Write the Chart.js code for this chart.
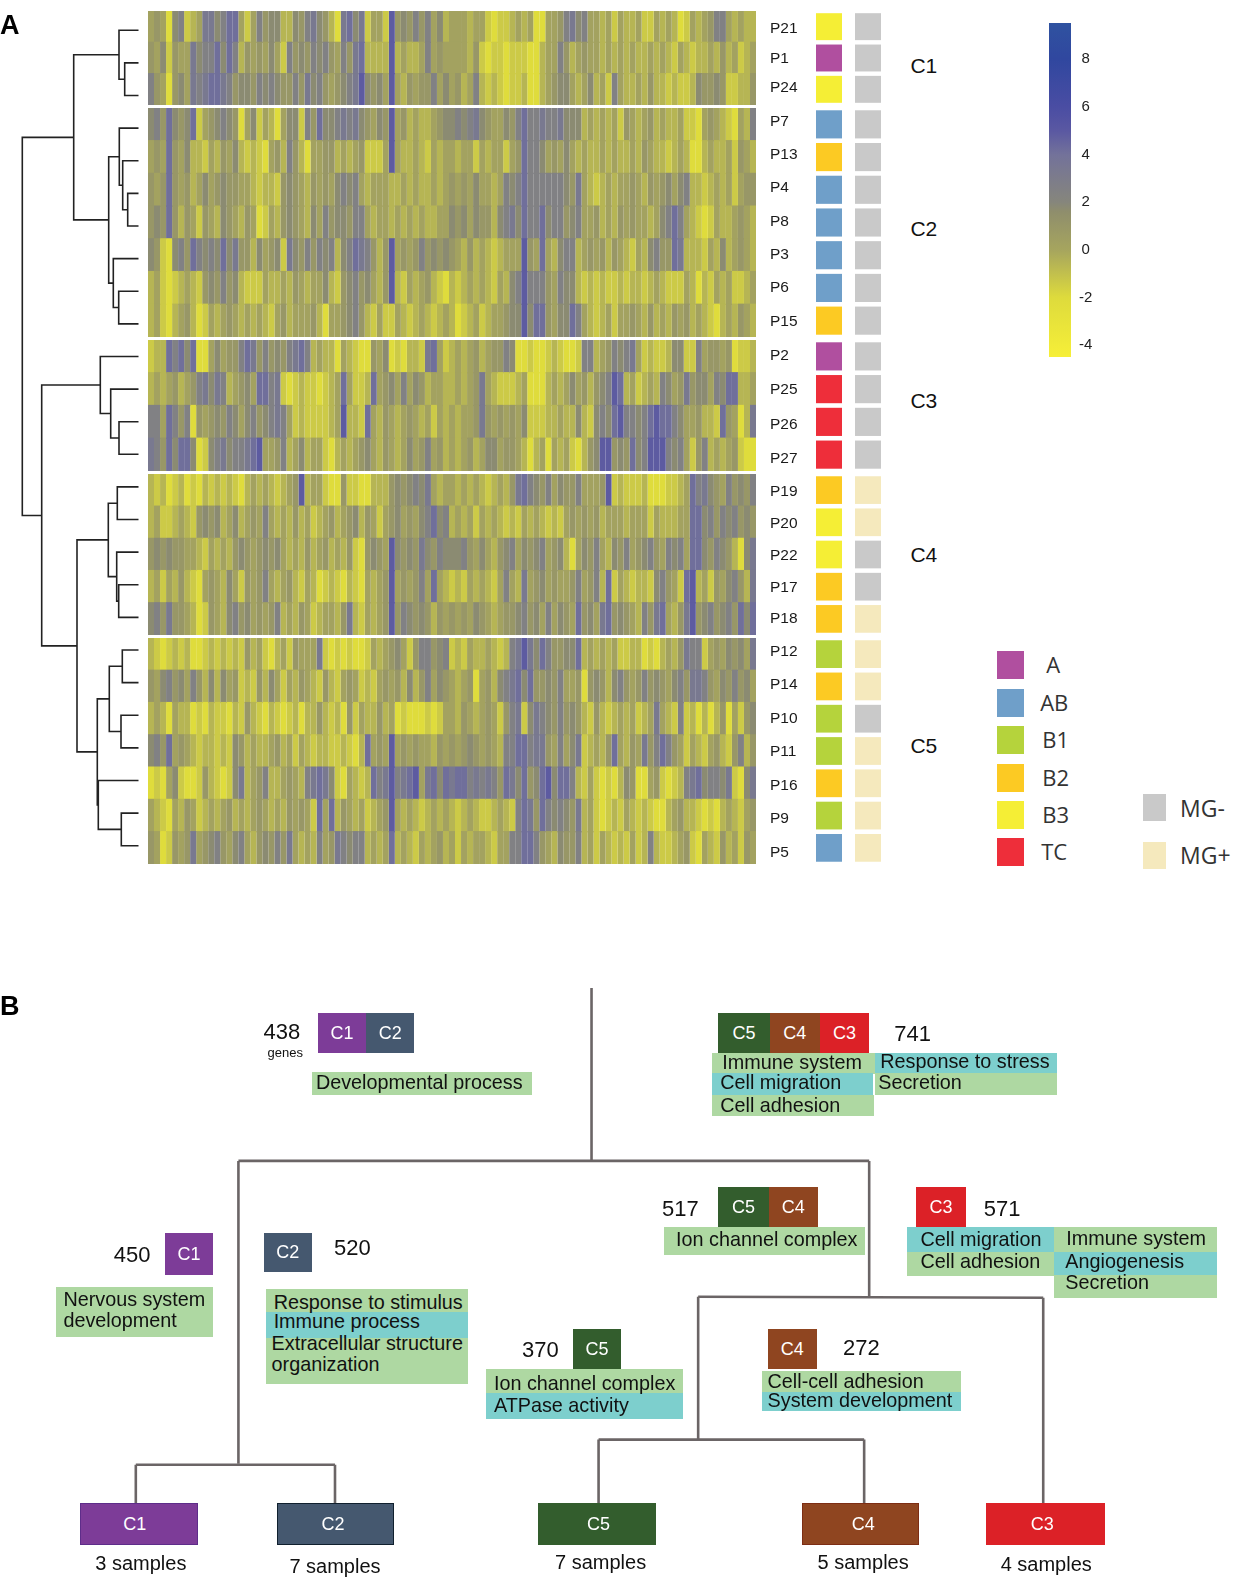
<!DOCTYPE html>
<html><head><meta charset="utf-8">
<script src="https://cdn.jsdelivr.net/npm/chart.js@4/dist/chart.umd.min.js"></script>
<style>
html,body{margin:0;padding:0;background:#fff}
#page{position:relative;width:1235px;height:1577px;overflow:hidden;font-family:"Liberation Sans",Arial,sans-serif;color:#111}
canvas{position:absolute}
.t{position:absolute;white-space:nowrap;line-height:1}
.b{position:absolute}
</style></head><body><div id="page"></div>
<script>
/* ---------- heatmap values: one list per sample, 101 expression columns ---------- */
const P21=[0,1,0,-3,2,3,-2,-1,0,4, 4,2,3,5,5,0,-2,0,3,1, 2,2,-1,-1,2,1,3,4,2,1, -1,-3,4,5,2,4,-2,0,0,-2, 6,1,2,1,3,1,3,0,2,-1, 0,0,0,-1,0,0,-2,-3,-2,-2, -1,0,-1,0,-3,-3,0,0,1,3, 4,2,3,0,0,-1,0,-2,0,-1, -1,0,-2,-2,0,-1,0,-1,-3,-2, 0,-1,0,1,3,3,0,-1,0,-1, -1];
const P1=[1,0,2,-2,1,0,0,4,2,3, 3,5,2,5,3,-1,1,0,1,0, 2,0,-2,3,1,2,1,3,2,3, 1,0,3,1,4,5,-1,-1,-1,-1, 6,-1,0,-1,-1,0,3,0,1,0, 0,0,0,-1,1,-2,-3,-2,-2,-3, -2,-2,-2,-3,-3,-1,0,0,3,1, -1,0,1,0,0,-1,0,-1,0,-1, 0,-1,-1,0,-1,0,-1,-2,0,-1, -2,-1,-1,0,-1,1,-1,0,-2,-1, 0];
const P24=[3,1,0,-3,1,2,0,4,3,4, 5,5,4,3,1,2,2,1,3,2, 3,2,1,1,3,1,4,2,3,1, 0,1,2,3,4,6,2,1,2,0, 6,0,-1,1,0,1,1,3,0,2, 0,1,-1,0,3,-1,-2,-1,-2,-3, -2,-2,-1,-3,-3,-1,0,1,2,2, 0,-1,0,2,-1,0,-2,3,0,-1, -1,0,-1,1,-1,-1,-2,-1,-2,-2, -1,2,1,1,2,1,-2,-2,-1,-1, 1];
const P7=[2,3,1,5,2,1,2,5,-2,0, 1,2,3,2,1,-3,0,2,-2,0, -1,-3,0,2,2,-2,3,1,5,2, 2,3,4,3,4,2,1,0,2,1, 6,0,1,-1,0,-1,-1,0,1,2, 2,3,2,3,4,2,1,0,0,2, 1,3,5,3,3,4,3,3,4,2, 2,2,-1,0,-1,0,-1,0,-2,1, 0,-1,0,1,-1,0,-1,-1,0,-2, -2,-3,0,1,0,-1,-2,-3,0,-1, 3];
const P13=[0,1,0,5,1,0,2,-1,-1,-2, 0,-1,1,0,2,-1,-2,-1,-2,-3, 0,1,-1,3,1,-1,-3,0,0,1, 1,-1,0,-1,0,1,-2,-2,-2,0, 6,0,-1,-1,0,-1,-2,0,-1,0, 0,-1,0,0,-2,0,-1,0,0,-2, 0,1,5,3,3,2,0,1,0,2, 0,-1,0,-1,-1,0,-1,0,-1,-1, 0,-1,1,0,-1,-1,-2,-1,0,-1, -3,-3,-1,0,-1,-1,0,-2,1,0, -1];
const P4=[1,0,1,5,1,0,1,-1,0,2, 0,1,2,1,1,0,0,-1,-2,-1, -1,-2,1,2,1,0,-1,1,0,1, 0,2,3,2,3,0,-1,0,0,0, -1,-1,0,-1,0,-1,-1,0,-1,0, 1,0,1,0,2,0,0,-1,0,3, 2,3,5,3,3,3,3,3,3,2, 1,4,0,-1,-2,-1,0,-1,0,0, 1,0,-1,1,0,1,2,0,2,3, -1,-1,-2,-1,0,-1,0,-2,0,1, 1];
const P8=[1,2,1,5,1,-1,1,0,-2,1, 0,-1,2,1,0,-1,1,0,-3,-2, 0,-1,1,2,1,0,-1,2,0,3, 1,2,2,1,3,3,0,-1,0,0, -1,0,-1,0,-1,0,-1,-1,0,0, 2,1,2,0,2,1,1,-1,2,3, 4,2,5,3,3,5,2,3,3,1, 2,3,0,0,1,-1,0,-1,1,0, 1,0,0,-1,0,2,3,5,3,0, -1,-2,-3,-2,0,-1,-1,0,1,0, -1];
const P3=[2,1,-2,-3,2,3,1,5,3,2, 3,2,5,2,4,1,1,-1,2,0, 1,2,-2,4,2,1,3,1,3,2, 3,-1,2,3,5,4,3,1,-1,1, 6,0,1,0,1,3,1,2,1,2, 1,0,-1,1,-1,0,-1,-2,-1,0, 0,0,6,1,0,5,0,-1,2,3, 3,-1,0,1,0,1,-1,1,0,-1, -2,0,-1,2,3,1,1,5,4,-1, -1,-1,-2,0,-1,2,-1,0,1,0, -1];
const P6=[-1,0,-2,-3,-2,-1,0,-1,-2,1, 2,1,3,1,2,-1,-2,-2,-2,0, -1,-1,0,-1,1,0,-1,0,0,2, -1,-2,1,2,3,1,2,0,-1,1, 6,-1,-2,0,-1,0,1,-1,-2,-3, -1,-2,-1,0,-1,0,-1,-2,0,-1, 2,3,6,3,3,3,1,0,3,2, 2,-1,-2,-1,-2,-1,-2,-2,-1,-2, -1,-1,-2,-1,0,-1,-2,-2,-2,0, -1,-3,-1,-2,0,-1,0,-2,-2,-1, 0];
const P15=[-1,0,-2,-3,-1,0,1,-1,-3,-2, 0,-1,0,1,0,-1,0,-1,0,-1, -2,0,1,-1,0,0,0,1,-1,-3, 0,0,1,2,3,1,-1,-2,0,-2, -2,0,-1,-2,-1,0,-1,-2,-1,0, -1,-3,-2,-1,0,-2,-1,0,0,1, 2,2,6,2,5,5,1,0,2,2, 5,3,0,-1,-2,-1,0,-2,0,0, 1,0,-1,1,-1,0,-1,1,0,1, -1,0,-1,-2,-3,-1,0,-1,1,0, -1];
const P2=[-2,-1,-1,5,3,5,2,5,-3,-3, 0,2,0,1,1,3,5,4,1,3, 1,2,1,3,4,5,3,-1,0,-1, -1,-3,0,-1,-2,-3,-3,1,0,2, -3,-2,-3,-1,-1,-2,4,5,0,-2, -1,0,-1,0,1,-1,0,1,1,3, 2,-3,-3,-2,-3,-3,-2,-1,-2,-3, -3,-2,3,3,-1,0,1,3,2,3, 4,0,-2,-1,-2,-2,-1,2,2,-2, -2,3,0,1,1,0,1,-3,-2,-2, -1];
const P25=[-1,0,-1,0,1,-1,0,1,3,4, 2,4,3,-1,0,1,2,0,5,5, 3,4,-2,-3,-2,-1,-2,-2,-3,-2, -1,0,5,0,-2,-2,-1,5,0,1, 2,0,3,0,2,1,-1,0,0,-1, -1,0,-1,0,1,4,0,-1,-2,-2, -2,-1,0,-3,-3,-3,-1,0,-1,0, 2,0,1,-1,1,2,3,6,5,-1, 0,-2,-1,0,-1,3,2,0,1,4, 1,2,2,0,3,2,5,5,-1,-1, 0];
const P26=[3,3,0,5,3,1,3,-3,1,0, 1,2,1,3,2,0,2,3,1,2, 3,4,3,0,-2,-1,-2,-2,-2,-2, -1,0,6,-1,-1,-2,5,0,-1,1, 0,-1,0,1,0,-1,0,-2,0,-1, 0,-1,0,0,1,4,1,0,1,0, 1,0,2,-2,-2,-2,-1,-1,0,-1, -1,2,-1,-2,2,3,2,5,6,3, 3,2,3,5,6,5,5,3,2,0, 0,1,-1,-1,-2,5,1,0,-3,-1, 4];
const P27=[4,3,1,5,2,5,5,2,-3,-2, 2,3,4,2,3,3,4,5,6,0, 0,1,3,-1,0,2,-1,0,0,-2, -3,-1,0,-1,0,1,2,0,-1,1, 0,-1,0,2,0,1,3,0,1,-1, 0,-1,0,1,-1,0,2,2,0,1, 1,0,-1,-3,-1,0,-3,0,-1,0, -2,-3,-1,1,2,6,6,1,2,1, 5,2,3,6,6,6,3,2,3,0, -2,1,3,-1,0,-1,0,1,-2,-3, -3];
const P19=[-1,-2,-1,-3,-2,-1,-3,-2,-3,-1, -2,-1,-2,-1,-2,-3,-1,0,-1,0, -1,-2,-1,0,1,6,-1,0,0,-2, -3,-3,1,-2,-2,-3,-3,-1,-1,-1, 1,2,1,2,3,2,4,0,-1,0, 0,-1,0,-1,0,-1,-2,-1,0,-1, 1,4,5,3,2,1,3,0,2,1, 1,3,0,0,0,1,6,-2,-1,-2, -2,-2,-1,-3,-3,-3,-2,-2,-1,0, 5,3,4,2,1,0,3,1,2,1, 3];
const P20=[-1,0,-2,-2,-1,0,-1,-2,1,2, 1,2,-1,0,2,-1,0,1,0,3, 0,-1,0,-1,1,-1,0,-2,-1,0, 1,-1,0,1,2,-1,1,0,-2,0, 1,2,0,1,0,2,3,5,2,3, -1,0,-1,0,-2,0,-1,0,-1,-2, -1,-2,0,-1,0,-1,-2,-1,-2,0, 1,0,1,0,1,-1,0,0,0,-1, 0,0,0,-2,0,-1,-1,-1,0,0, 5,5,2,3,1,3,2,3,1,2, 1];
const P22=[1,2,1,2,1,1,0,0,-1,-2, 0,-1,0,-1,1,2,1,0,1,2, 1,2,0,-1,0,-1,1,-1,0,1, -1,0,-1,1,-2,-3,1,2,1,0, 6,2,1,2,1,4,2,1,3,2, 2,2,3,1,0,2,0,-1,1,2, 3,0,2,1,2,3,0,1,2,-1, -3,0,2,1,3,0,-1,2,1,3, 0,1,2,3,1,0,3,2,3,0, 5,5,2,1,3,2,1,-1,-3,2, 4];
const P17=[-1,0,-2,0,-1,1,-1,-2,-3,0, 1,0,-1,2,0,-2,1,0,1,3, 0,-1,0,1,-1,-2,0,-1,-3,-2, -1,-2,-3,-1,-2,-3,0,-1,0,1, 6,0,1,0,1,3,0,5,0,-1, -2,-1,-2,0,-1,0,-1,-2,0,3, 0,-1,4,0,1,2,0,1,0,0, 1,3,0,1,3,-1,5,-2,0,-1, -2,-1,-1,-2,2,3,1,0,-2,5, 6,-1,0,-2,1,0,2,3,1,-1, 4];
const P18=[2,3,1,4,1,1,0,-1,-3,-2, 1,0,-1,2,3,1,2,0,1,0, 1,3,-1,0,-1,1,0,-2,-1,0, 0,-1,1,4,-1,-2,0,-1,0,1, 6,1,3,2,1,2,1,-1,1,0, 1,0,1,0,2,1,0,-1,0,1, 1,2,3,1,2,0,3,0,2,1, 0,5,1,2,0,4,5,1,2,1, 0,-1,3,1,4,5,0,-1,1,4, 6,1,2,3,1,2,3,1,5,2, 5];
const P12=[-1,-2,-3,-2,-1,-2,-1,-3,-3,-2, -1,-2,-1,-2,-1,-2,1,-1,0,-2, -3,-1,0,-2,1,0,0,0,4,-2, -3,-2,-3,-2,-3,-3,-2,0,-1,0, 1,2,0,-2,1,3,3,1,2,3, -2,-1,-2,0,-1,-1,0,-1,-2,-1, 3,4,6,4,2,5,3,1,1,2, 2,5,-1,0,-1,0,-1,0,-2,-2, -1,-1,-3,-2,-3,-1,0,-1,1,4, 3,3,-2,0,1,0,2,1,2,0, 4];
const P14=[1,0,2,3,1,2,0,3,1,-1, 2,-1,2,0,1,-2,-1,-2,1,-1, 2,0,-2,0,-1,1,0,-1,-2,1, -1,-2,0,1,0,-2,-1,-2,0,1, 0,1,-1,2,-1,1,3,0,2,1, 0,-1,0,1,-3,0,1,-1,2,3, 4,5,2,5,1,1,2,1,3,0, 0,1,-3,1,2,1,-1,2,3,1, 0,1,3,1,2,1,0,2,3,1, 4,4,3,1,0,2,1,3,1,2, 0];
const P10=[-1,0,-1,-3,0,-1,-1,-3,-2,-3, -1,-2,-2,-3,-1,-2,1,-1,-2,-3, -1,-2,-3,-2,-1,-3,-1,-1,1,-1, -2,-1,-3,1,-2,0,-1,-1,1,-1, 0,-3,-2,-3,-3,-3,-2,-3,-2,0, 0,-1,1,0,-1,0,1,0,-2,1, 3,4,-2,2,4,3,2,1,3,1, 2,1,-1,-2,1,-1,-2,-1,0,-1, 0,-2,-1,0,4,0,-1,-2,3,-2, -1,-3,-1,-3,-1,1,-3,0,-2,1, 2];
const P11=[2,3,1,5,0,1,0,-1,-2,-1, -1,-2,-1,-2,2,1,-1,0,-1,-1, 0,1,-1,0,-2,0,-1,-2,-1,-1, -2,-2,-1,-2,-3,-1,5,0,1,0, 6,0,1,0,1,0,0,-1,1,0, 1,0,1,2,1,0,1,0,-1,3, 3,5,5,3,4,4,1,0,3,0, 2,4,-2,-1,0,-1,1,5,0,-1, 1,0,4,1,3,5,3,1,0,-2, 0,-1,-2,0,1,-1,-2,1,3,-1, 1];
const P16=[-3,-2,-3,0,2,-2,-3,-3,-2,1, -1,-2,-3,-2,2,4,-1,0,1,3, -1,-1,0,1,0,-1,3,4,5,4, 2,-2,-3,0,-1,-2,-1,5,3,4, 6,3,4,5,6,0,4,5,2,5, 4,5,5,3,4,3,4,3,1,5, 4,2,5,1,2,5,6,2,5,5, 3,-1,-2,0,-2,-3,-2,-3,-1,2, 1,-3,-3,0,1,-2,-3,-2,-1,3, 4,5,2,3,3,2,4,-2,-3,2, 4];
const P9=[0,-1,-2,-3,0,-1,1,0,-2,-1, 0,-1,0,1,-1,0,-1,0,1,0, -1,0,-1,1,0,1,0,-2,5,0, 5,-1,1,0,-1,0,-2,-1,0,1, 6,0,-1,0,-1,-2,-1,0,-1,0, -1,-2,-1,0,-1,-2,-2,-1,0,-1, -2,3,5,4,1,5,3,2,3,2, 1,4,-1,0,-2,-3,-2,-1,-2,0, -1,-2,-1,-2,-3,-3,-1,0,1,-1, -1,-2,-3,-2,-3,-1,0,-1,-2,0, 1];
const P5=[1,0,-3,-2,1,0,1,4,0,1, 2,3,1,0,2,3,0,-1,1,2, 1,3,1,4,0,-1,0,-1,3,0, 1,4,3,2,3,3,-1,0,-1,0, 5,-1,0,-1,-2,0,-1,0,1,-1, 0,-2,0,-1,0,0,-1,-2,0,0, 3,3,5,5,3,1,0,-1,2,1, 1,3,-1,0,-2,0,-1,-2,-1,-2, 0,-2,-1,3,-1,-2,-2,-1,0,1, -2,-3,0,-1,-2,1,-1,0,-2,1, 0];
const heatRows={P21,P1,P24,P7,P13,P4,P8,P3,P6,P15,P2,P25,P26,P27,P19,P20,P22,P17,P18,P12,P14,P10,P11,P16,P9,P5};

/* ---------- groups and annotations ---------- */
const clusterNames=['C1','C2','C3','C4','C5'];
const clusterSamples=[['P21','P1','P24'],['P7','P13','P4','P8','P3','P6','P15'],['P2','P25','P26','P27'],['P19','P20','P22','P17','P18'],['P12','P14','P10','P11','P16','P9','P5']];
const subtypeOf={P21:'B3',P1:'A',P24:'B3',P7:'AB',P13:'B2',P4:'AB',P8:'AB',P3:'AB',P6:'AB',P15:'B2',P2:'A',P25:'TC',P26:'TC',P27:'TC',P19:'B2',P20:'B3',P22:'B3',P17:'B2',P18:'B2',P12:'B1',P14:'B2',P10:'B1',P11:'B1',P16:'B2',P9:'B1',P5:'AB'};
const mgOf={P21:'MG-',P1:'MG-',P24:'MG-',P7:'MG-',P13:'MG-',P4:'MG-',P8:'MG-',P3:'MG-',P6:'MG-',P15:'MG-',P2:'MG-',P25:'MG-',P26:'MG-',P27:'MG-',P19:'MG+',P20:'MG+',P22:'MG-',P17:'MG-',P18:'MG+',P12:'MG+',P14:'MG+',P10:'MG-',P11:'MG+',P16:'MG+',P9:'MG+',P5:'MG+'};
const subtypeColors={A:'#b04f9f',AB:'#6f9fc9',B1:'#b5d33c',B2:'#fcca23',B3:'#f5ee35',TC:'#ee2e3a'};
const mgColors={'MG-':'#c9c9c9','MG+':'#f5e9bd'};
const colorbarTicks=[-4,-2,0,2,4,6,8];
const colorStops=[[-4.49,'#f6ef38'],[-2,'#dedb3c'],[0,'#a6a55e'],[1.6,'#8f8e6c'],[2,'#86867c'],[4,'#73729a'],[5,'#5a58a2'],[6,'#4a4da3'],[8,'#30479f'],[9.52,'#2f52a0']];

/* dendrogram merges: [child, child, height]; number = row, 'n#' = earlier merge */
const dendroMerges=[
 [1,2,13.8],[0,'n0',19.5],[5,6,10.8],[4,'n2',15.8],[3,'n3',19.2],[8,9,19.8],[7,'n5',25.2],['n4','n6',29.8],['n1','n7',64.8],
 [12,13,19.5],[11,'n9',27.8],[10,'n10',38.2],
 [14,15,21.2],[17,18,19.8],[16,'n13',21.8],['n12','n14',30.2],
 [19,20,16.2],[21,22,17.5],['n16','n17',29.2],[24,25,17.2],[23,'n19',40.2],['n18','n20',41.2],
 ['n15','n21',61.5],['n11','n22',96.8],['n8','n23',116.2]];

/* panel B tree branches, in figure units */
const treeBranches=[
 [[588,982],[588,1153]],[[237,1154],[864,1154]],[[237,1154],[237,1455]],[[135,1456],[333,1456]],[[135,1456],[135,1494]],[[333,1456],[333,1494]],
 [[864,1154],[864,1289]],[[694,1289],[1037,1290]],[[694,1289],[694,1431]],[[595,1431],[859,1431]],[[595,1431],[595,1494]],[[859,1431],[859,1494]],[[1037,1290],[1037,1494]]];

const K=1.006;
const page=document.getElementById('page');
function mkCanvas(l,t,w,h){const c=document.createElement('canvas');c.width=w;c.height=h;c.style.cssText=`left:${l}px;top:${t}px;width:${w}px;height:${h}px`;page.appendChild(c);return c;}
function hexLerp(a,b,f){const p=s=>[1,3,5].map(i=>parseInt(s.substr(i,2),16));const A=p(a),B=p(b);return 'rgb('+A.map((v,i)=>Math.round(v+(B[i]-v)*f)).join(',')+')';}
function heatColor(v){for(let i=1;i<colorStops.length;i++){if(v<=colorStops[i][0]){const[a,ca]=colorStops[i-1],[b,cb]=colorStops[i];return hexLerp(ca,cb,(v-a)/(b-a));}}return colorStops[colorStops.length-1][1];}
Chart.defaults.animation=false;Chart.defaults.responsive=false;Chart.defaults.font.family='"Liberation Sans",Arial,sans-serif';
const quiet={legend:{display:false},tooltip:{enabled:false}};
const fitAxis=w=>s=>{s.width=w;s.paddingTop=0;s.paddingBottom=0;};

/* heatmap + annotation tracks: one chart pair per cluster */
const bands=[[11,105],[108,337],[340,471],[474,635],[638,864]];
const labelBands=[[14,103],[105,338],[338,476],[476,635],[635,869]];
const numCols=101;
const cellGain=0.78;
clusterSamples.forEach((rows,ci)=>{
  const [top,bot]=bands[ci];
  const datasets=[];
  for(let c=0;c<numCols;c++){
    datasets.push({data:rows.map(()=>1),backgroundColor:rows.map(r=>heatColor(0.2+heatRows[r][c]*cellGain)),barPercentage:1.04,categoryPercentage:1,borderWidth:0});
  }
  const hc=mkCanvas(148,top,608,bot-top);hc.style.filter='blur(.6px)';
  new Chart(hc,{type:'bar',data:{labels:rows,datasets},options:{indexAxis:'y',layout:{padding:0},plugins:quiet,
    scales:{x:{stacked:true,display:false,min:0,max:numCols},y:{stacked:true,display:false}}}});
  const [lt,lb]=labelBands[ci];
  new Chart(mkCanvas(770,lt,38,lb-lt),{type:'bar',data:{labels:rows,datasets:[{data:rows.map(()=>1),backgroundColor:'transparent'}]},options:{indexAxis:'y',layout:{padding:0},plugins:quiet,
    scales:{x:{display:false,min:0,max:1},
      y:{position:'left',afterFit:fitAxis(38),grid:{display:false},border:{display:false},
         ticks:{padding:0,crossAlign:'far',color:'#1a1a1a',font:{size:15.5},autoSkip:false}}}}});
  new Chart(mkCanvas(816,top,65,bot-top),{type:'bar',data:{labels:rows,datasets:[
      {data:rows.map(()=>[0,2]),backgroundColor:rows.map(r=>subtypeColors[subtypeOf[r]])},
      {data:rows.map(()=>[3,5]),backgroundColor:rows.map(r=>mgColors[mgOf[r]])}]},
    options:{indexAxis:'y',layout:{padding:0},plugins:quiet,datasets:{bar:{grouped:false,barPercentage:0.86,categoryPercentage:1}},
      scales:{x:{display:false,min:0,max:5},y:{display:false}}}});
});

/* dendrogram */
(function(){
  const pos={};const ds=[];
  const at=k=>typeof k==='number'?{h:0,y:k}:pos[k];
  dendroMerges.forEach((m,i)=>{
    const a=at(m[0]),b=at(m[1]),h=m[2];
    pos['n'+i]={h,y:(a.y+b.y)/2};
    ds.push({data:[{x:a.h,y:a.y},{x:h,y:a.y},{x:h,y:b.y},{x:b.h,y:b.y}],showLine:true,pointRadius:0,borderColor:'#222',borderWidth:1.6,fill:false});
  });
  new Chart(mkCanvas(18,14,122,848),{type:'scatter',data:{datasets:ds},options:{layout:{padding:0},plugins:quiet,
    scales:{x:{display:false,reverse:true,min:-1.5,max:120.5},y:{display:false,reverse:true,min:-0.5,max:25.5}}}});
})();

/* colour key */
new Chart(mkCanvas(1049,23,48,334),{type:'bar',data:{labels:['key'],datasets:[
   {data:[[-4.49,9.52]],barPercentage:1,categoryPercentage:1,backgroundColor:ctx=>{const a=ctx.chart.chartArea;if(!a)return '#888';const s=ctx.chart.scales.y;const g=ctx.chart.ctx.createLinearGradient(0,a.bottom,0,a.top);colorStops.forEach(([v,c])=>g.addColorStop(Math.min(1,Math.max(0,(v-s.min)/(s.max-s.min))),c));return g;}},
   {data:[[1.68,1.74]],barPercentage:1,categoryPercentage:1,backgroundColor:'#f2f2e4'}]},
  options:{layout:{padding:0},plugins:quiet,datasets:{bar:{grouped:false}},
   scales:{x:{display:false},y:{position:'right',min:-4.49,max:9.52,afterFit:fitAxis(26),afterBuildTicks:s=>{s.ticks=colorbarTicks.map(value=>({value}))},
     grid:{display:false},border:{display:false},ticks:{padding:0,color:'#222',font:{size:15},crossAlign:'center'}}}}});

/* panel B tree */
new Chart(mkCanvas(0,970,1235,600),{type:'scatter',data:{datasets:treeBranches.map(b=>({data:b.map(([x,y])=>({x:x*K,y:y*K})),showLine:true,pointRadius:0,borderColor:'#6b6566',borderWidth:2.6}))},
  options:{layout:{padding:0},plugins:quiet,scales:{x:{display:false,min:0,max:1235},y:{display:false,reverse:true,min:970,max:1570}}}});

/* text and boxes */
function txt(s,x,y,size,o={}){const d=document.createElement('div');d.className='t';d.textContent=s;const c=o.center;
  d.style.cssText=`left:${x*K}px;top:${y*K}px;font-size:${size}px;transform:translate(${c?'-50%':'0'},-50%);color:${o.color||'#111'};font-weight:${o.weight||'normal'};${o.font?`font-family:${o.font};`:''}`;page.appendChild(d);}
function box(x0,y0,x1,y1,bg,label,o={}){const d=document.createElement('div');d.className='b';d.style.cssText=`left:${x0*K}px;top:${y0*K}px;width:${(x1-x0)*K}px;height:${(y1-y0)*K}px;background:${bg};${o.border?`box-sizing:border-box;border:1.5px solid ${o.border};`:''}`;page.appendChild(d);
  if(label)txt(label,o.lx||(x0+x1)/2,(y0+y1)/2,o.size||18,{center:true,color:'#fff'});}

txt('A',0,25,27,{weight:'bold',color:'#000'});txt('B',0,1000,27,{weight:'bold',color:'#000'});
[['C1',65],['C2',227],['C3',398],['C4',551],['C5',741]].forEach(([s,y])=>txt(s,905,y,21));
const lx=991;
[['A',647,1040],['AB',685,1034],['B1',722,1036],['B2',759,1036],['B3',796,1036],['TC',833,1035]].forEach(([s,y,tx])=>{box(lx,y,lx+27,y+28,subtypeColors[s]);txt(s,tx,y+13,22,{font:'"Open Sans"',color:'#333'});});
box(1136,789,1159,816,mgColors['MG-']);txt('MG-',1173,803,23,{font:'"Open Sans"',color:'#333'});
box(1136,837,1159,864,mgColors['MG+']);txt('MG+',1173,850,23,{font:'"Open Sans"',color:'#333'});

const PUR='#7d3c98',SLT='#45586f',GRN='#335d2d',BRN='#8f4520',RED='#dc2127',LG='#aed8a2',TL='#7dcfcd';
const F=19.8;
/* gene set annotations */
txt('438',262,1026,22);txt('genes',266,1046,13);
box(316,1007,364,1047,PUR,'C1');box(364,1007,412,1047,SLT,'C2');
box(310,1066,529,1088,LG);txt('Developmental process',314,1077,F);
box(714,1007,765,1047,GRN,'C5');box(765,1007,815,1047,BRN,'C4');box(815,1007,864,1047,RED,'C3');txt('741',889,1028,22);
box(708,1047,870,1068,LG);box(708,1067,868,1088,TL);box(708,1088,869,1109,LG);box(870,1047,1051,1067,TL);box(870,1067,1051,1088,LG);
txt('Immune system',718,1057,F);txt('Cell migration',716,1077,F);txt('Cell adhesion',716,1099,F);txt('Response to stress',875,1056,F);txt('Secretion',873,1077,F);
txt('517',658,1202,22);box(714,1180,764,1220,GRN,'C5');box(764,1180,813,1220,BRN,'C4');box(660,1220,860,1248,LG);txt('Ion channel complex',672,1233,F);
box(911,1180,960,1220,RED,'C3');txt('571',978,1202,22);
box(902,1220,1048,1245,TL);box(902,1245,1048,1268,LG);box(1048,1220,1210,1245,LG);box(1048,1245,1210,1267,TL);box(1048,1267,1210,1290,LG);
txt('Cell migration',915,1233,F);txt('Cell adhesion',915,1254,F);txt('Immune system',1060,1232,F);txt('Angiogenesis',1059,1254,F);txt('Secretion',1059,1275,F);
txt('450',113,1248,22);box(164,1226,212,1267,PUR,'C1');box(56,1279,212,1329,LG);txt('Nervous system',63,1292,F);txt('development',63,1313,F);
box(262,1226,310,1264,SLT,'C2');txt('520',332,1241,22);box(264,1281,465,1376,LG);box(264,1304,465,1330,TL);
txt('Response to stimulus',272,1295,F);txt('Immune process',272,1314,F);txt('Extracellular structure',270,1336,F);txt('organization',270,1357,F);
txt('370',519,1342,22);box(570,1321,617,1361,GRN,'C5');box(483,1361,679,1388,LG);box(483,1385,679,1411,TL);txt('Ion channel complex',491,1376,F);txt('ATPase activity',491,1398,F);
box(763,1321,812,1361,BRN,'C4');txt('272',838,1340,22);box(757,1363,955,1385,LG);box(757,1384,955,1403,TL);txt('Cell-cell adhesion',763,1374,F);txt('System development',763,1393,F);
/* clusters at the tips */
box(80,1494,197,1536,PUR,'C1',{border:'#5e2d8a',lx:134});box(275,1494,392,1536,SLT,'C2',{border:'#10202e',lx:331});box(535,1494,652,1536,GRN,'C5',{lx:595});box(797,1494,914,1536,BRN,'C4',{border:'#7d2d14',lx:858});box(980,1494,1098,1536,RED,'C3',{lx:1036});
txt('3 samples',140,1554,20,{center:true});txt('7 samples',333,1557,20,{center:true});txt('7 samples',597,1553,20,{center:true});txt('5 samples',858,1553,20,{center:true});txt('4 samples',1040,1555,20,{center:true});
</script></body></html>
